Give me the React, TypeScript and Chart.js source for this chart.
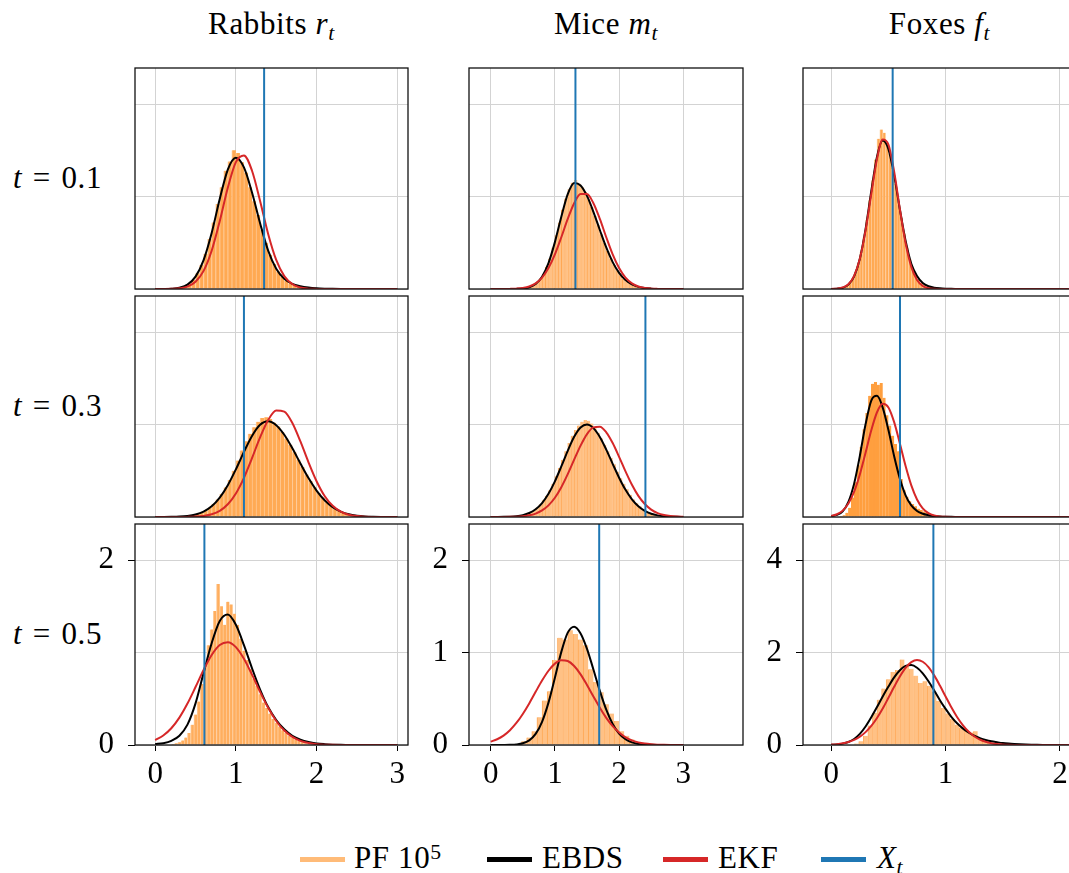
import { useEffect, useRef } from 'react';
import { Chart, registerables } from 'chart.js';

Chart.register(...registerables);

// ---------------------------------------------------------------------------
// Data
// ---------------------------------------------------------------------------

const SPECIES = ['Rabbits', 'Mice', 'Foxes'];
const SPECIES_SYMBOL = ['r', 'm', 'f'];
const TIMES = ['0.1', '0.3', '0.5'];

// population values at which the EBDS / EKF densities are tabulated
const GRID_RABBITS_MICE = [0, 0.1, 0.2, 0.3, 0.4, 0.5, 0.6, 0.7, 0.8, 0.9, 1, 1.1, 1.2, 1.3, 1.4, 1.5, 1.6, 1.7, 1.8, 1.9, 2, 2.1, 2.2, 2.3, 2.4, 2.5, 2.6, 2.7, 2.8, 2.9, 3];
const GRID_FOXES = [0, 0.05, 0.1, 0.15, 0.2, 0.25, 0.3, 0.35, 0.4, 0.45, 0.5, 0.55, 0.6, 0.65, 0.7, 0.75, 0.8, 0.85, 0.9, 0.95, 1, 1.05, 1.1, 1.15, 1.2, 1.25, 1.3, 1.35, 1.4, 1.45, 1.5, 1.55, 1.6, 1.65, 1.7, 1.75, 1.8, 1.85, 1.9, 1.95, 2, 2.05, 2.1, 2.15, 2.2];

// true state X_t at t = 0.1, 0.3, 0.5
const TRUE_RABBITS = [1.35, 1.1, 0.61];
const TRUE_MICE = [1.32, 2.41, 1.69];
const TRUE_FOXES = [0.537, 0.601, 0.893];

// EBDS densities
const EBDS_RABBITS_T01 = [0.0001, 0.0005, 0.003, 0.014, 0.047, 0.134, 0.313, 0.606, 0.973, 1.292, 1.42, 1.315, 1.044, 0.711, 0.415, 0.22, 0.11, 0.055, 0.03, 0.016, 0.008, 0.004, 0.002, 0.001, 0.0005, 0, 0, 0, 0, 0, 0];
const EBDS_RABBITS_T03 = [0.0001, 0.0005, 0.0016, 0.0044, 0.0115, 0.027, 0.059, 0.116, 0.21, 0.344, 0.515, 0.704, 0.877, 0.998, 1.036, 0.993, 0.889, 0.743, 0.579, 0.421, 0.286, 0.181, 0.107, 0.059, 0.03, 0.0145, 0.0065, 0.0027, 0.001, 0.0004, 0.0001];
const EBDS_RABBITS_T05 = [0.01, 0.02, 0.045, 0.1, 0.22, 0.45, 0.78, 1.1, 1.34, 1.41, 1.3, 1.08, 0.83, 0.6, 0.41, 0.27, 0.17, 0.1, 0.058, 0.032, 0.017, 0.009, 0.004, 0.002, 0.001, 0, 0, 0, 0, 0, 0];
const EBDS_MICE_T01 = [0, 0, 0, 0.0003, 0.0013, 0.0053, 0.018, 0.053, 0.132, 0.28, 0.507, 0.781, 1.025, 1.146, 1.12, 1.007, 0.835, 0.638, 0.449, 0.291, 0.174, 0.096, 0.049, 0.023, 0.01, 0.004, 0.0013, 0.0005, 0, 0, 0];
const EBDS_MICE_T03 = [0.0001, 0.0005, 0.0014, 0.0036, 0.009, 0.0205, 0.043, 0.084, 0.151, 0.251, 0.386, 0.547, 0.716, 0.867, 0.968, 1.0, 0.961, 0.865, 0.729, 0.575, 0.425, 0.294, 0.191, 0.116, 0.066, 0.035, 0.0174, 0.0081, 0.0036, 0.0015, 0.0006];
const EBDS_MICE_T05 = [0, 0.0001, 0.0004, 0.0016, 0.0058, 0.0183, 0.05, 0.12, 0.251, 0.458, 0.727, 1.007, 1.215, 1.28, 1.207, 1.04, 0.816, 0.585, 0.382, 0.227, 0.124, 0.062, 0.028, 0.0115, 0.0043, 0.0015, 0.0005, 0, 0, 0, 0];
const EBDS_FOXES_T01 = [0.0013, 0.0065, 0.027, 0.095, 0.274, 0.655, 1.295, 2.115, 2.862, 3.21, 3.024, 2.458, 1.723, 1.042, 0.543, 0.28, 0.13, 0.06, 0.03, 0.015, 0.007, 0.003, 0.0015, 0, 0, 0, 0, 0, 0, 0, 0, 0, 0, 0, 0, 0, 0, 0, 0, 0, 0, 0, 0, 0, 0];
const EBDS_FOXES_T03 = [0.02, 0.045, 0.122, 0.327, 0.722, 1.323, 2.005, 2.516, 2.62, 2.366, 1.881, 1.316, 0.83, 0.47, 0.25, 0.13, 0.07, 0.04, 0.022, 0.012, 0.006, 0.003, 0.0015, 0, 0, 0, 0, 0, 0, 0, 0, 0, 0, 0, 0, 0, 0, 0, 0, 0, 0, 0, 0, 0, 0];
const EBDS_FOXES_T05 = [0.005, 0.012, 0.03, 0.065, 0.13, 0.24, 0.4, 0.6, 0.82, 1.05, 1.263, 1.462, 1.618, 1.71, 1.728, 1.67, 1.55, 1.38, 1.18, 0.97, 0.78, 0.61, 0.47, 0.36, 0.27, 0.2, 0.15, 0.11, 0.08, 0.06, 0.042, 0.03, 0.021, 0.014, 0.009, 0.006, 0.004, 0.0025, 0.0015, 0.001, 0.0005, 0, 0, 0, 0];

// EKF densities
const EKF_RABBITS_T01 = [0, 0.0003, 0.0017, 0.0074, 0.026, 0.078, 0.196, 0.414, 0.734, 1.095, 1.372, 1.445, 1.279, 0.953, 0.596, 0.314, 0.139, 0.052, 0.016, 0.004, 0.001, 0, 0, 0, 0, 0, 0, 0, 0, 0, 0];
const EKF_RABBITS_T03 = [0, 0, 0.0001, 0.0004, 0.0013, 0.0042, 0.0117, 0.03, 0.067, 0.138, 0.255, 0.424, 0.637, 0.861, 1.049, 1.152, 1.14, 1.017, 0.817, 0.592, 0.387, 0.227, 0.121, 0.058, 0.025, 0.0096, 0.0034, 0.0011, 0.0003, 0.0001, 0];
const EKF_RABBITS_T05 = [0.054, 0.103, 0.181, 0.296, 0.448, 0.627, 0.812, 0.974, 1.082, 1.112, 1.059, 0.933, 0.761, 0.575, 0.402, 0.26, 0.156, 0.087, 0.0445, 0.021, 0.0093, 0.0038, 0.0015, 0.0005, 0.0002, 0, 0, 0, 0, 0, 0];
const EKF_MICE_T01 = [0, 0.0001, 0.0004, 0.0013, 0.004, 0.011, 0.027, 0.061, 0.123, 0.226, 0.374, 0.56, 0.758, 0.928, 1.027, 1.027, 0.928, 0.758, 0.56, 0.374, 0.226, 0.123, 0.061, 0.027, 0.011, 0.004, 0.0013, 0.0004, 0.0001, 0, 0];
const EKF_MICE_T03 = [0.0001, 0.0002, 0.0005, 0.0014, 0.0035, 0.0082, 0.018, 0.037, 0.071, 0.126, 0.208, 0.322, 0.463, 0.62, 0.772, 0.897, 0.969, 0.976, 0.916, 0.8, 0.651, 0.493, 0.348, 0.228, 0.14, 0.08, 0.042, 0.021, 0.0096, 0.0041, 0.0016];
const EKF_MICE_T05 = [0.036, 0.062, 0.102, 0.16, 0.238, 0.336, 0.45, 0.575, 0.697, 0.803, 0.88, 0.917, 0.908, 0.854, 0.764, 0.649, 0.525, 0.403, 0.294, 0.204, 0.135, 0.084, 0.05, 0.0285, 0.0153, 0.0078, 0.0038, 0.0018, 0.0008, 0.0003, 0.0001];
const EKF_FOXES_T01 = [0.0018, 0.008, 0.032, 0.104, 0.285, 0.655, 1.267, 2.059, 2.814, 3.235, 3.124, 2.536, 1.731, 0.994, 0.479, 0.194, 0.066, 0.019, 0.0046, 0.001, 0, 0, 0, 0, 0, 0, 0, 0, 0, 0, 0, 0, 0, 0, 0, 0, 0, 0, 0, 0, 0, 0, 0, 0, 0];
const EKF_FOXES_T03 = [0.022, 0.059, 0.138, 0.29, 0.547, 0.921, 1.39, 1.876, 2.266, 2.45, 2.369, 2.051, 1.588, 1.101, 0.683, 0.379, 0.188, 0.084, 0.033, 0.012, 0.004, 0.001, 0, 0, 0, 0, 0, 0, 0, 0, 0, 0, 0, 0, 0, 0, 0, 0, 0, 0, 0, 0, 0, 0, 0];
const EKF_FOXES_T05 = [0.01, 0.019, 0.036, 0.065, 0.11, 0.179, 0.278, 0.412, 0.584, 0.789, 1.02, 1.258, 1.481, 1.667, 1.791, 1.838, 1.801, 1.686, 1.506, 1.286, 1.048, 0.816, 0.606, 0.431, 0.292, 0.189, 0.117, 0.069, 0.039, 0.021, 0.011, 0.0054, 0.0026, 0.0012, 0.0005, 0.0002, 0, 0, 0, 0, 0, 0, 0, 0, 0];

// particle-filter histograms (10^5 particles): first bin edge, bin width, bin heights
const HIST_START_RABBITS = [0.2, 0.45, 0.2];
const HIST_WIDTH_RABBITS = [0.05, 0.05, 0.04];
const HIST_START_MICE = [0.5, 0.55, 0.48];
const HIST_WIDTH_MICE = [0.05, 0.05, 0.08];
const HIST_START_FOXES = [0.1, 0.05, 0.2];
const HIST_WIDTH_FOXES = [0.025, 0.025, 0.04];

const PF_RABBITS_T01 = [0.004, 0.01, 0.02, 0.035, 0.06, 0.1, 0.17, 0.26, 0.38, 0.54, 0.72, 0.92, 1.1, 1.28, 1.38, 1.5, 1.47, 1.37, 1.26, 1.1, 0.95, 0.8, 0.64, 0.5, 0.37, 0.27, 0.19, 0.13, 0.09, 0.06, 0.04, 0.028, 0.02, 0.013, 0.009, 0.006, 0.004, 0.003, 0.002, 0.001];
const PF_RABBITS_T03 = [0.022, 0.033, 0.05, 0.07, 0.1, 0.14, 0.19, 0.25, 0.32, 0.4, 0.5, 0.61, 0.72, 0.82, 0.9, 0.97, 1.03, 1.07, 1.08, 1.06, 1.02, 0.98, 0.92, 0.85, 0.78, 0.7, 0.62, 0.54, 0.46, 0.39, 0.32, 0.26, 0.21, 0.16, 0.125, 0.095, 0.07, 0.05, 0.036, 0.025, 0.017, 0.012, 0.008, 0.005];
const PF_RABBITS_T05 = [0.01, 0.02, 0.03, 0.05, 0.08, 0.13, 0.22, 0.33, 0.47, 0.66, 0.85, 1.08, 1.25, 1.45, 1.74, 1.5, 1.3, 1.55, 1.52, 1.42, 1.3, 1.15, 1.02, 0.92, 0.82, 0.72, 0.64, 0.55, 0.46, 0.4, 0.34, 0.28, 0.24, 0.2, 0.16, 0.13, 0.1, 0.08, 0.06, 0.045, 0.03, 0.02, 0.012, 0.008];
const PF_MICE_T01 = [0.007, 0.014, 0.025, 0.04, 0.07, 0.11, 0.16, 0.24, 0.33, 0.45, 0.58, 0.72, 0.86, 0.98, 1.08, 1.15, 1.18, 1.14, 1.1, 1.05, 0.97, 0.89, 0.79, 0.69, 0.59, 0.5, 0.41, 0.33, 0.26, 0.2, 0.15, 0.11, 0.083, 0.06, 0.042, 0.029, 0.02, 0.013, 0.009, 0.006, 0.004, 0.002];
const PF_MICE_T03 = [0.035, 0.05, 0.07, 0.1, 0.135, 0.18, 0.23, 0.29, 0.36, 0.44, 0.53, 0.62, 0.71, 0.8, 0.88, 0.94, 0.99, 1.03, 1.05, 1.04, 1.01, 0.96, 0.91, 0.85, 0.78, 0.71, 0.64, 0.57, 0.49, 0.42, 0.36, 0.3, 0.24, 0.19, 0.15, 0.115, 0.087, 0.064, 0.047, 0.034, 0.024, 0.016, 0.011, 0.007];
const PF_MICE_T05 = [0.04, 0.08, 0.15, 0.3, 0.48, 0.58, 0.92, 1.16, 1.14, 1.24, 1.2, 1.14, 1.08, 0.82, 0.68, 0.57, 0.44, 0.34, 0.26, 0.15, 0.1, 0.06, 0.03, 0.01];
const PF_FOXES_T01 = [0.035, 0.07, 0.13, 0.22, 0.35, 0.55, 0.8, 1.12, 1.5, 1.92, 2.35, 2.8, 3.25, 3.45, 3.38, 3.15, 2.92, 2.62, 2.27, 1.9, 1.53, 1.2, 0.9, 0.65, 0.45, 0.3, 0.2, 0.13, 0.085, 0.055, 0.035, 0.022, 0.014, 0.009];
const PF_FOXES_T03 = [0.01, 0.02, 0.04, 0.09, 0.2, 0.42, 0.75, 1.12, 1.52, 1.9, 2.25, 2.62, 2.88, 2.92, 2.86, 2.9, 2.58, 2.2, 1.98, 1.76, 1.58, 1.42, 0.82, 0.58, 0.44, 0.34, 0.28, 0.23, 0.18, 0.15, 0.12, 0.09, 0.07, 0.05];
const PF_FOXES_T05 = [0.03, 0.08, 0.2, 0.42, 0.7, 0.98, 1.22, 1.42, 1.58, 1.62, 1.85, 1.72, 1.65, 1.5, 1.34, 1.38, 1.28, 1.15, 0.95, 0.8, 0.68, 0.56, 0.44, 0.38, 0.32, 0.27, 0.3, 0.15, 0.1, 0.07, 0.05, 0.03];

// axis ticks per species column
const X_TICKS = [[0, 1, 2, 3], [0, 1, 2, 3], [0, 1, 2]];
const Y_TICKS = [[0, 1, 2], [0, 1, 2], [0, 2, 4]];
const Y_TICKS_LABELLED = [[0, 2], [0, 1, 2], [0, 2, 4]];

// ---------------------------------------------------------------------------
// Layout and style
// ---------------------------------------------------------------------------

const FONT = '"Liberation Serif", "DejaVu Serif", serif';
const FONT_SIZE = 31;
const BLUE = '#1f77b4';
const RED = '#d62728';
const BLACK = '#000000';
const PF_COLOR = '#ffbb78';
const GRID_COLOR = '#d3d3d3';

const PLOT_LEFT = [135, 469, 803];
const PLOT_W = [273, 274, 273];
const PLOT_TOP = [68, 296, 524];
const PLOT_H = 221;
const LEFT_W = 60;
const BOTTOM_H = 60;
const PAD = 2;

const X_MIN = [-0.25, -0.338, -0.247];
const X_MAX = [3.133, 3.93, 2.14];
const Y_MAX = [2.39, 2.39, 4.78];

// histogram fill / bin-edge colours, by row then column
const HIST_FILL = [
  ['#ffa952', '#ffc185', '#ffa952'],
  ['#ffaa54', '#ffc185', '#ff9f3f'],
  ['#ffae5e', '#ffc185', '#ffc185'],
];
const HIST_EDGE = [
  ['#ffc892', '#ffa854', '#ffc892'],
  ['#ffc892', '#ffae62', '#ff9f3f'],
  ['#ffca96', '#ffa854', '#ffae62'],
];

const SERIES = [
  {
    grid: GRID_RABBITS_MICE,
    ebds: [EBDS_RABBITS_T01, EBDS_RABBITS_T03, EBDS_RABBITS_T05],
    ekf: [EKF_RABBITS_T01, EKF_RABBITS_T03, EKF_RABBITS_T05],
    pf: [PF_RABBITS_T01, PF_RABBITS_T03, PF_RABBITS_T05],
    histStart: HIST_START_RABBITS,
    histWidth: HIST_WIDTH_RABBITS,
    truth: TRUE_RABBITS,
  },
  {
    grid: GRID_RABBITS_MICE,
    ebds: [EBDS_MICE_T01, EBDS_MICE_T03, EBDS_MICE_T05],
    ekf: [EKF_MICE_T01, EKF_MICE_T03, EKF_MICE_T05],
    pf: [PF_MICE_T01, PF_MICE_T03, PF_MICE_T05],
    histStart: HIST_START_MICE,
    histWidth: HIST_WIDTH_MICE,
    truth: TRUE_MICE,
  },
  {
    grid: GRID_FOXES,
    ebds: [EBDS_FOXES_T01, EBDS_FOXES_T03, EBDS_FOXES_T05],
    ekf: [EKF_FOXES_T01, EKF_FOXES_T03, EKF_FOXES_T05],
    pf: [PF_FOXES_T01, PF_FOXES_T03, PF_FOXES_T05],
    histStart: HIST_START_FOXES,
    histWidth: HIST_WIDTH_FOXES,
    truth: TRUE_FOXES,
  },
];

// box around every panel
const framePlugin = {
  id: 'panelFrame',
  afterDraw(chart: any) {
    const { ctx, chartArea } = chart;
    ctx.save();
    ctx.strokeStyle = '#111111';
    ctx.lineWidth = 1.3;
    ctx.strokeRect(chartArea.left, chartArea.top, chartArea.right - chartArea.left, chartArea.bottom - chartArea.top);
    ctx.restore();
  },
};

// fixed axis sizes so every plot area lands on the same grid
const fixScaleSize = (scale: any, width: number | null, height: number | null) => {
  if (width !== null) scale.width = width;
  if (height !== null) scale.height = height;
  scale.paddingTop = 0;
  scale.paddingBottom = 0;
  scale.paddingLeft = 0;
  scale.paddingRight = 0;
};

function Panel({ row, col }: { row: number; col: number }) {
  const ref = useRef<HTMLCanvasElement>(null);
  const isBottom = row === 2;
  const w = LEFT_W + PLOT_W[col] + PAD;
  const h = PAD + PLOT_H + (isBottom ? BOTTOM_H : PAD);

  useEffect(() => {
    const s = SERIES[col];
    const curve = (ys: number[]) => ys.map((y, i) => ({ x: s.grid[i], y }));
    const heights = s.pf[row];
    const start = s.histStart[row];
    const width = s.histWidth[row];
    const bars = heights.map((y, i) => ({ x: start + (i + 0.5) * width, y }));
    const t = s.truth[row];
    const tickFont = { family: FONT, size: FONT_SIZE };

    const chart = new Chart(ref.current as HTMLCanvasElement, {
      type: 'bar',
      data: {
        datasets: [
          {
            type: 'line',
            label: 'X_t',
            data: [{ x: t, y: 0 }, { x: t, y: Y_MAX[col] }],
            borderColor: BLUE,
            borderWidth: 2,
            pointRadius: 0,
            fill: false,
            order: 0,
          },
          {
            type: 'line',
            label: 'EKF',
            data: curve(s.ekf[row]),
            borderColor: RED,
            borderWidth: 2,
            pointRadius: 0,
            fill: false,
            cubicInterpolationMode: 'monotone',
            order: 1,
          },
          {
            type: 'line',
            label: 'EBDS',
            data: curve(s.ebds[row]),
            borderColor: BLACK,
            borderWidth: 2,
            pointRadius: 0,
            fill: false,
            cubicInterpolationMode: 'monotone',
            order: 2,
          },
          {
            type: 'bar',
            label: 'PF',
            data: bars,
            backgroundColor: HIST_FILL[row][col],
            borderColor: HIST_EDGE[row][col],
            borderWidth: { left: 1, right: 0, top: 0, bottom: 0 },
            barPercentage: 1,
            categoryPercentage: 1,
            order: 3,
          },
        ],
      } as any,
      options: {
        responsive: false,
        animation: false,
        devicePixelRatio: 1,
        events: [],
        layout: { padding: { top: PAD, right: PAD, bottom: isBottom ? 0 : PAD, left: 0 }, autoPadding: false },
        plugins: { legend: { display: false }, tooltip: { enabled: false } },
        scales: {
          x: {
            type: 'linear',
            min: X_MIN[col],
            max: X_MAX[col],
            bounds: 'data',
            offset: false,
            afterBuildTicks: (scale: any) => {
              scale.ticks = X_TICKS[col].map((value) => ({ value }));
            },
            afterFit: (scale: any) => fixScaleSize(scale, null, isBottom ? BOTTOM_H : 0),
            border: { display: false },
            grid: {
              color: GRID_COLOR,
              lineWidth: 1,
              offset: false,
              drawTicks: isBottom,
              tickLength: 6,
              tickColor: '#000',
              tickWidth: 1,
            },
            ticks: {
              display: isBottom,
              font: tickFont,
              color: '#000',
              padding: 5,
              maxRotation: 0,
              autoSkip: false,
              callback: (v: any) => String(v),
            },
          },
          y: {
            type: 'linear',
            min: 0,
            max: Y_MAX[col],
            bounds: 'data',
            afterBuildTicks: (scale: any) => {
              scale.ticks = Y_TICKS[col].map((value) => ({ value }));
            },
            afterFit: (scale: any) => fixScaleSize(scale, LEFT_W, null),
            border: { display: false },
            grid: {
              color: GRID_COLOR,
              lineWidth: 1,
              drawTicks: isBottom,
              tickLength: 7,
              tickWidth: 1,
              tickColor: (ctx: any) =>
                ctx.tick && Y_TICKS_LABELLED[col].includes(ctx.tick.value) ? '#000' : 'rgba(0,0,0,0)',
            },
            ticks: {
              display: isBottom,
              font: tickFont,
              color: '#000',
              padding: 14,
              autoSkip: false,
              callback: (v: any) => (Y_TICKS_LABELLED[col].includes(v) ? String(v) : ''),
            },
          },
        },
      } as any,
      plugins: [framePlugin],
    });
    return () => chart.destroy();
  }, [row, col]);

  return (
    <canvas
      ref={ref}
      width={w}
      height={h}
      style={{ position: 'absolute', left: PLOT_LEFT[col] - LEFT_W, top: PLOT_TOP[row] - PAD, width: w, height: h }}
    />
  );
}

const Sub = ({ children }: { children: any }) => (
  <span style={{ fontSize: '0.7em', position: 'relative', top: '0.28em', fontStyle: 'italic' }}>{children}</span>
);
const Sup = ({ children }: { children: any }) => (
  <span style={{ fontSize: '0.7em', position: 'relative', top: '-0.42em' }}>{children}</span>
);

const textBase: any = {
  position: 'absolute',
  fontFamily: FONT,
  fontSize: FONT_SIZE,
  lineHeight: `${FONT_SIZE}px`,
  color: '#000',
  whiteSpace: 'nowrap',
  letterSpacing: '0.02em',
};

const LEGEND_ITEMS = [
  { color: PF_COLOR, lineLeft: 300, textLeft: 354, label: <>PF 10<Sup>5</Sup></> },
  { color: BLACK, lineLeft: 487, textLeft: 542, label: <>EBDS</> },
  { color: RED, lineLeft: 663, textLeft: 718, label: <>EKF</> },
  { color: BLUE, lineLeft: 821, textLeft: 877, label: <><i>X</i><Sub>t</Sub></> },
];

export default function App() {
  const cells: any[] = [];
  for (let r = 0; r < 3; r++) {
    for (let c = 0; c < 3; c++) cells.push(<Panel key={`${r}-${c}`} row={r} col={c} />);
  }
  return (
    <div
      style={{
        position: 'fixed',
        left: 0,
        top: 0,
        width: 1069,
        height: 873,
        overflow: 'hidden',
        background: '#fff',
      }}
    >
      {SPECIES.map((name, c) => (
        <div
          key={name}
          style={{ ...textBase, top: 8, left: PLOT_LEFT[c] + PLOT_W[c] / 2, transform: 'translateX(-50%)' }}
        >
          {name} <i>{SPECIES_SYMBOL[c]}</i>
          <Sub>t</Sub>
        </div>
      ))}
      {TIMES.map((t, r) => (
        <div key={t} style={{ ...textBase, top: PLOT_TOP[r] + PLOT_H / 2 - 17, left: 13 }}>
          <i>t</i>
          <span style={{ margin: '0 0.34em' }}>=</span>
          {t}
        </div>
      ))}
      {cells}
      {LEGEND_ITEMS.map((item, i) => (
        <div key={i}>
          <div
            style={{
              position: 'absolute',
              left: item.lineLeft,
              top: 857,
              width: 45,
              height: 4.5,
              background: item.color,
            }}
          />
          <div style={{ ...textBase, top: 842, left: item.textLeft }}>{item.label}</div>
        </div>
      ))}
    </div>
  );
}
